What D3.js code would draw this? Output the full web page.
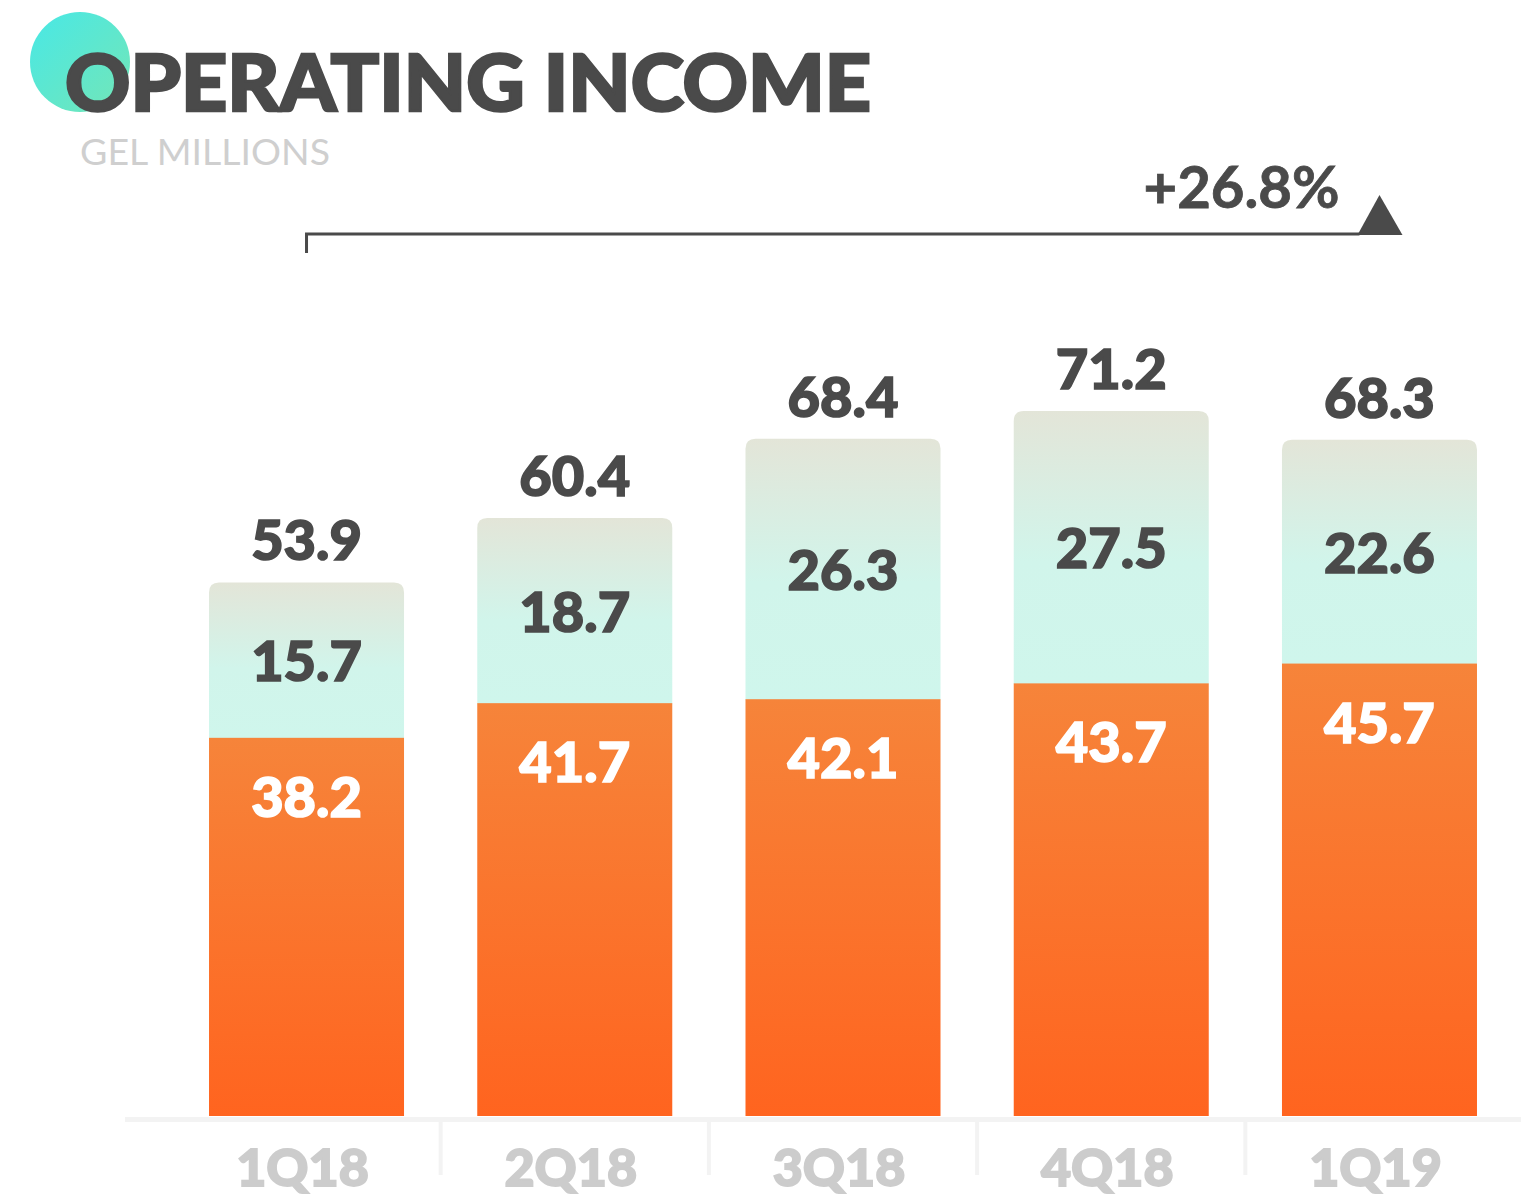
<!DOCTYPE html>
<html>
<head>
<meta charset="utf-8">
<script src="https://cdn.jsdelivr.net/npm/d3@7"></script>
<style>
  body { margin: 0; background: #fff; }
  svg { display: block; }
  text { font-family: Lato, "Open Sans", sans-serif; }
</style>
</head>
<body>
<div id="chart"></div>
<script>
'use strict';

// chart values
const quarters = ["1Q18", "2Q18", "3Q18", "4Q18", "1Q19"];
const coreIncome = [38.2, 41.7, 42.1, 43.7, 45.7];
const otherIncome = [15.7, 18.7, 26.3, 27.5, 22.6];
const totals = [53.9, 60.4, 68.4, 71.2, 68.3];
const growthLabel = "+26.8%";

const W = 1521, H = 1200;
const baseY = 1116;

const svg = d3.select("#chart")
    .append("svg")
    .attr("width", W)
    .attr("height", H);

const defs = svg.append("defs");

// gradients
const addGrad = (id, x2, y2, stops) => {
    const g = defs.append("linearGradient")
        .attr("id", id)
        .attr("x1", 0).attr("y1", 0)
        .attr("x2", x2).attr("y2", y2);
    stops.forEach(s => g.append("stop").attr("offset", s[0]).attr("stop-color", s[1]));
};
addGrad("orangeGrad", 0, 1, [["0%", "#f6843a"], ["100%", "#ff641f"]]);
addGrad("tealGrad", 0, 1, [["0%", "#e3e5d8"], ["55%", "#d1f5eb"], ["100%", "#cff6ec"]]);
addGrad("circleGrad", 1, 1, [["0%", "#48e8e6"], ["100%", "#74e6b6"]]);

// scales
const x = d3.scaleBand()
    .domain(quarters)
    .range([172.4, 1513.6])
    .paddingInner(0.273)
    .paddingOuter(0.1365);

const y = d3.scaleLinear()
    .domain([0, 80])
    .range([baseY, baseY - 792]);

// title
svg.append("circle")
    .attr("cx", 80).attr("cy", 62).attr("r", 50)
    .attr("fill", "url(#circleGrad)");

svg.append("text")
    .attr("x", 65).attr("y", 111)
    .attr("font-size", 78)
    .attr("font-weight", 900)
    .attr("fill", "#4a4a4a")
    .attr("stroke", "#4a4a4a")
    .attr("stroke-width", 2.5)
    .attr("textLength", 806)
    .attr("lengthAdjust", "spacingAndGlyphs")
    .text("OPERATING INCOME");

svg.append("text")
    .attr("x", 80).attr("y", 165)
    .attr("font-size", 36)
    .attr("font-weight", 400)
    .attr("fill", "#cfcfcf")
    .attr("textLength", 250)
    .attr("lengthAdjust", "spacingAndGlyphs")
    .text("GEL MILLIONS");

// growth bracket
const firstC = x(quarters[0]) + x.bandwidth() / 2;
const lastC = x(quarters[quarters.length - 1]) + x.bandwidth() / 2;

svg.append("path")
    .attr("d", `M${firstC},253 V234 H${lastC - 20}`)
    .attr("fill", "none")
    .attr("stroke", "#4a4a4a")
    .attr("stroke-width", 3);

svg.append("path")
    .attr("d", `M${lastC - 22},235 L${lastC},195 L${lastC + 23},235 Z`)
    .attr("fill", "#4a4a4a");

svg.append("text")
    .attr("x", lastC - 40).attr("y", 208)
    .attr("text-anchor", "end")
    .attr("font-size", 58)
    .attr("font-weight", 700)
    .attr("fill", "#4a4a4a")
    .attr("stroke", "#4a4a4a")
    .attr("stroke-width", 0.8)
    .text(growthLabel);

// axis line and separators
svg.append("rect")
    .attr("x", 125).attr("y", baseY + 1)
    .attr("width", W - 125).attr("height", 5)
    .attr("fill", "#f3f3f3");

const step = x.step();
svg.selectAll(".sep")
    .data(quarters.slice(1))
    .enter()
    .append("rect")
    .attr("class", "sep")
    .attr("x", d => x(d) - (step - x.bandwidth()) / 2 - 2)
    .attr("y", baseY + 1)
    .attr("width", 4)
    .attr("height", 58)
    .attr("fill", "#f3f3f3");

// bars
const rows = quarters.map((q, i) => ({
    q: q, core: coreIncome[i], other: otherIncome[i], total: totals[i]
}));

const r = 10;
const bw = x.bandwidth();

// other income (top segment, rounded top)
svg.selectAll(".other")
    .data(rows)
    .enter()
    .append("path")
    .attr("class", "other")
    .attr("d", d => {
        const x0 = x(d.q), x1 = x0 + bw;
        const yt = y(d.core + d.other), yb = y(d.core) + 1;
        return `M${x0},${yb} V${yt + r} Q${x0},${yt} ${x0 + r},${yt} H${x1 - r} Q${x1},${yt} ${x1},${yt + r} V${yb} Z`;
    })
    .attr("fill", "url(#tealGrad)");

svg.selectAll(".core")
    .data(rows)
    .enter()
    .append("rect")
    .attr("class", "core")
    .attr("x", d => x(d.q))
    .attr("y", d => y(d.core))
    .attr("width", bw)
    .attr("height", d => baseY - y(d.core))
    .attr("fill", "url(#orangeGrad)");

// value labels
const labelStyle = (sel, color) => sel
    .attr("text-anchor", "middle")
    .attr("font-size", 56)
    .attr("font-weight", 900)
    .attr("fill", color)
    .attr("stroke", color)
    .attr("stroke-width", 1.6);

svg.selectAll(".coreLabel")
    .data(rows)
    .enter()
    .append("text")
    .attr("class", "coreLabel")
    .call(labelStyle, "#ffffff")
    .attr("x", d => x(d.q) + bw / 2)
    .attr("y", d => y(d.core) + 79)
    .text(d => d.core.toFixed(1));

svg.selectAll(".otherLabel")
    .data(rows)
    .enter()
    .append("text")
    .attr("class", "otherLabel")
    .call(labelStyle, "#4a4a4a")
    .attr("x", d => x(d.q) + bw / 2)
    .attr("y", d => (y(d.core) + y(d.core + d.other)) / 2 + 21)
    .text(d => d.other.toFixed(1));

svg.selectAll(".totalLabel")
    .data(rows)
    .enter()
    .append("text")
    .attr("class", "totalLabel")
    .call(labelStyle, "#4a4a4a")
    .attr("x", d => x(d.q) + bw / 2)
    .attr("y", d => y(d.total) - 22)
    .text(d => d.total.toFixed(1));

// category labels
svg.selectAll(".cat")
    .data(quarters)
    .enter()
    .append("text")
    .attr("class", "cat")
    .attr("text-anchor", "middle")
    .attr("x", d => x(d) + bw / 2 - 4)
    .attr("y", 1186)
    .attr("font-size", 52)
    .attr("font-weight", 900)
    .attr("fill", "#cccccc")
    .attr("stroke", "#cccccc")
    .attr("stroke-width", 1.8)
    .text(d => d);
</script>
</body>
</html>
